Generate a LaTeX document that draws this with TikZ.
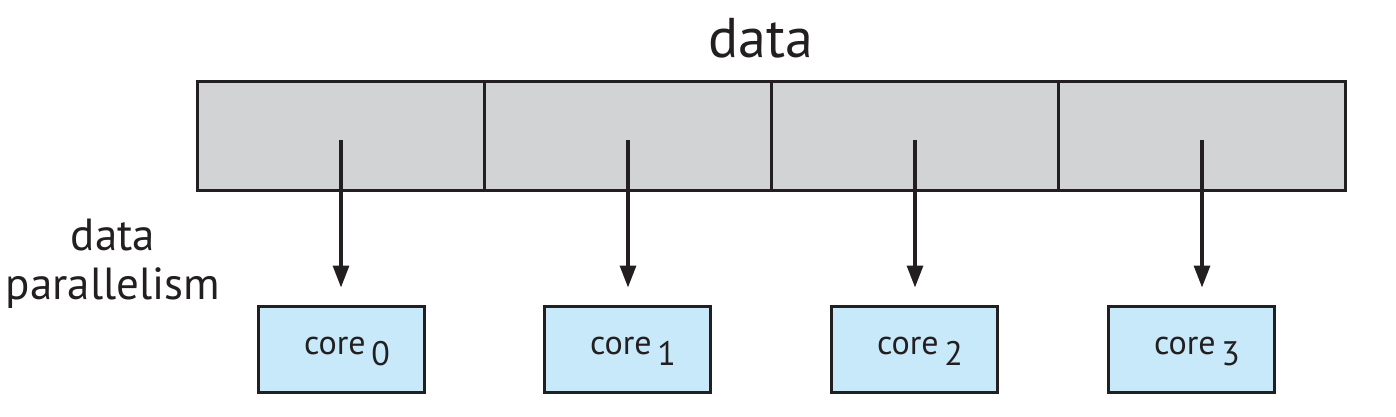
\documentclass[tikz,border=0pt]{standalone}
\usepackage{fontspec}
\setmainfont{PT Sans}
\usetikzlibrary{arrows.meta}
\definecolor{cellgray}{RGB}{209,211,212}
\definecolor{coreblue}{RGB}{199,233,249}
\definecolor{ink}{RGB}{35,31,32}
\tikzset{
  cell/.style={draw=ink, line width=3pt, fill=cellgray, minimum width=287pt, minimum height=109pt, inner sep=0pt, outer sep=0pt},
  corebox/.style={draw=ink, line width=3pt, fill=coreblue, minimum width=166pt, minimum height=86pt, inner sep=0pt, outer sep=0pt,
    text height=9pt, text depth=0pt, font=\fontsize{34}{38}\selectfont, text=ink},
  arr/.style={draw=ink, line width=3.2pt, -{Triangle[length=22pt,width=16pt]}, shorten >=19pt},
  bigtxt/.style={font=\fontsize{56}{60}\selectfont, text=ink, inner sep=0pt},
  sidetxt/.style={font=\fontsize{45}{49}\selectfont, text=ink, inner sep=0pt, align=center}
}
\newcommand{\coretext}[1]{\hspace*{12pt}core\,\raisebox{-11pt}[0pt][0pt]{#1}}
\begin{document}
\begin{tikzpicture}[x=1pt,y=-1pt]
\useasboundingbox (0,0) rectangle (1396,416);
\node[bigtxt, anchor=base] (title) at (761,57) {data};
\foreach \i/\cx in {0/341,1/628,2/915,3/1202}{
  \node[cell] (c\i) at (\cx,136) {};
}
\foreach \i/\cx in {0/341,1/627,2/914,3/1191}{
  \node[corebox] (k\i) at (\cx,349.5) {\coretext{\i}};
}
\foreach \i in {0,1,2,3}{
  \draw[arr] ([yshift=-4pt]c\i.center) -- (c\i.center |- k\i.north);
}
\node[sidetxt] (lbl) at (113,264) {data\\parallelism};
\end{tikzpicture}
\end{document}
